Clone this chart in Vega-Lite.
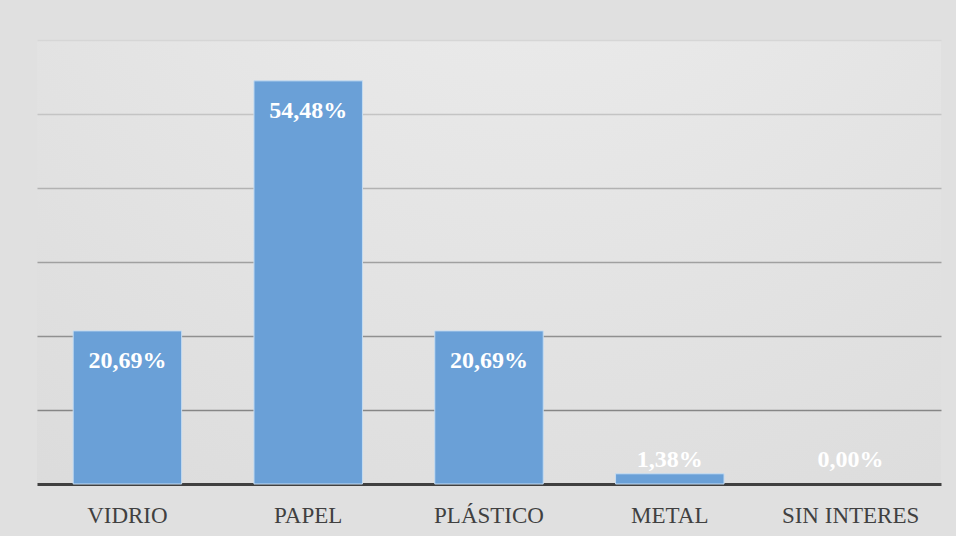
{
  "$schema": "https://vega.github.io/schema/vega-lite/v6.json",
  "width": 904,
  "height": 444,
  "autosize": {"type": "none"},
  "padding": {"left": 37, "right": 15, "top": 40, "bottom": 52},
  "background": "#e0e0e0",
  "config": {
    "view": {
      "stroke": null,
      "fill": {
        "gradient": "radial",
        "x1": 0.55, "y1": -0.05, "r1": 0,
        "x2": 0.55, "y2": -0.05, "r2": 1.1,
        "stops": [
          {"offset": 0, "color": "#efefef"},
          {"offset": 1, "color": "#d9d9d9"}
        ]
      }
    }
  },
  "data": {
    "values": [
      {"categoria": "VIDRIO", "valor": 20.69, "etiqueta": "20,69%"},
      {"categoria": "PAPEL", "valor": 54.48, "etiqueta": "54,48%"},
      {"categoria": "PLÁSTICO", "valor": 20.69, "etiqueta": "20,69%"},
      {"categoria": "METAL", "valor": 1.38, "etiqueta": "1,38%"},
      {"categoria": "SIN INTERES", "valor": 0.0, "etiqueta": "0,00%"}
    ]
  },
  "encoding": {
    "x": {
      "field": "categoria",
      "type": "nominal",
      "sort": null,
      "scale": {"paddingInner": 0.4, "paddingOuter": 0.2},
      "axis": {
        "title": null,
        "labelAngle": 0,
        "ticks": false,
        "tickSize": 0,
        "labelPadding": 38,
        "labelBaseline": "alphabetic",
        "labelFont": "Liberation Serif",
        "labelFontSize": 23,
        "labelColor": "#404040",
        "domainColor": "#404040",
        "domainWidth": 3,
        "grid": false
      }
    }
  },
  "layer": [
    {
      "transform": [{"filter": "datum.valor > 0"}],
      "mark": {"type": "bar", "color": "#6aa0d7", "stroke": "#c5dcf2", "strokeWidth": 1},
      "encoding": {
        "y": {
          "field": "valor",
          "type": "quantitative",
          "scale": {"domain": [0, 60], "nice": false},
          "axis": {
            "title": null,
            "labels": false,
            "ticks": false,
            "domain": false,
            "values": [10, 20, 30, 40, 50, 60],
            "gridWidth": 1.5,
            "gridColor": {
              "condition": [
                {"test": "datum.value >= 60", "value": "#d6d6d6"},
                {"test": "datum.value >= 50", "value": "#c4c4c4"},
                {"test": "datum.value >= 40", "value": "#b2b2b2"},
                {"test": "datum.value >= 30", "value": "#a0a0a0"},
                {"test": "datum.value >= 20", "value": "#909090"}
              ],
              "value": "#868686"
            }
          }
        }
      }
    },
    {
      "transform": [{"filter": "datum.valor >= 5"}],
      "mark": {"type": "text", "color": "#ffffff", "font": "Liberation Serif", "fontWeight": "bold", "fontSize": 24, "baseline": "alphabetic", "dy": 37},
      "encoding": {
        "y": {"field": "valor", "type": "quantitative"},
        "text": {"field": "etiqueta"}
      }
    },
    {
      "transform": [{"filter": "datum.valor < 5"}],
      "mark": {"type": "text", "color": "#ffffff", "font": "Liberation Serif", "fontWeight": "bold", "fontSize": 24, "baseline": "alphabetic", "dy": -17},
      "encoding": {
        "y": {"datum": 0, "type": "quantitative"},
        "text": {"field": "etiqueta"}
      }
    }
  ]
}
